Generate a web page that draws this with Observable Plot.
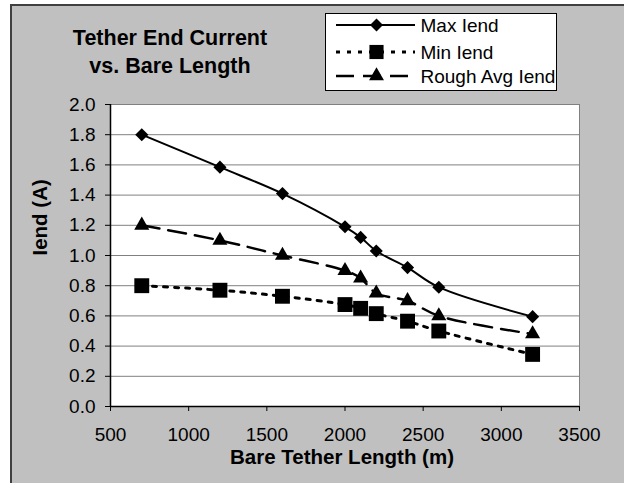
<!DOCTYPE html>
<html>
<head>
<meta charset="utf-8">
<script src="https://cdn.jsdelivr.net/npm/d3@7"></script>
<script src="https://cdn.jsdelivr.net/npm/@observablehq/plot@0.6"></script>
<style>
  html, body { margin: 0; padding: 0; background: #ffffff; }
  #wrap { position: relative; width: 624px; height: 483px; overflow: hidden; font-family: "Liberation Sans", Arial, sans-serif; }
  #bg { position: absolute; left: 10px; top: 4px; width: 620px; height: 490px; background: #c0c0c0; border-top: 2px solid #404040; border-left: 2px solid #404040; }
  #chart { position: absolute; left: 0; top: 0; }
  #title { position: absolute; left: 0; top: 24px; width: 340px; text-align: center; font-weight: bold; font-size: 21.5px; line-height: 28px; color: #000; }
  #legend { position: absolute; left: 325px; top: 13px; }
</style>
</head>
<body>
<div id="wrap">
  <div id="bg"></div>
  <div id="chart"></div>
  <div id="title">Tether End Current<br>vs. Bare Length</div>
  <div id="legend"></div>
</div>
<script>
const lengths = [700, 1200, 1600, 2000, 2100, 2200, 2400, 2600, 3200];
const maxIend = [1.80, 1.585, 1.41, 1.19, 1.12, 1.03, 0.92, 0.79, 0.595];
const minIend = [0.80, 0.77, 0.73, 0.675, 0.65, 0.615, 0.565, 0.50, 0.345];
const avgIend = [1.20, 1.10, 1.00, 0.90, 0.85, 0.75, 0.70, 0.60, 0.48];
const seriesNames = ["Max Iend", "Min Iend", "Rough Avg Iend"];
const xTicks = [500, 1000, 1500, 2000, 2500, 3000, 3500];
const yTicks = [0, 0.2, 0.4, 0.6, 0.8, 1.0, 1.2, 1.4, 1.6, 1.8, 2.0];

const maxData = lengths.map((x, i) => ({x, y: maxIend[i]}));
const minData = lengths.map((x, i) => ({x, y: minIend[i]}));
const avgData = lengths.map((x, i) => ({x, y: avgIend[i]}));

const chart = Plot.plot({
  width: 624,
  height: 483,
  marginLeft: 110,
  marginRight: 45,
  marginTop: 104,
  marginBottom: 77,
  style: {background: "transparent", fontFamily: "'Liberation Sans', Arial, sans-serif", fontSize: "19px", color: "#000", overflow: "visible"},
  x: {domain: [500, 3500]},
  y: {domain: [0, 2]},
  marks: [
    Plot.frame({fill: "white", stroke: "#808080"}),
    Plot.gridY(yTicks, {stroke: "#808080", strokeOpacity: 1}),
    Plot.axisX({ticks: xTicks, tickFormat: d => String(d), tickSize: 5, tickPadding: 16, label: null, stroke: "#000"}),
    Plot.axisY({ticks: yTicks, tickFormat: d => d.toFixed(1), tickSize: 5, tickPadding: 10, label: null, stroke: "#000"}),
    Plot.ruleX([500], {stroke: "#000", strokeWidth: 1.5}),
    Plot.ruleY([0], {stroke: "#000", strokeWidth: 1.5}),
    Plot.line(maxData, {x: "x", y: "y", curve: "catmull-rom", stroke: "#000", strokeWidth: 2}),
    Plot.line(minData, {x: "x", y: "y", curve: "catmull-rom", stroke: "#000", strokeWidth: 3, strokeDasharray: "4,7"}),
    Plot.line(avgData, {x: "x", y: "y", curve: "catmull-rom", stroke: "#000", strokeWidth: 2.5, strokeDasharray: "18,9"}),
    Plot.dot(maxData, {x: "x", y: "y", symbol: "diamond2", r: 5.9, fill: "#000", stroke: "none"}),
    Plot.dot(minData, {x: "x", y: "y", symbol: "square", r: 8.4, fill: "#000", stroke: "none"}),
    Plot.dot(avgData, {x: "x", y: "y", symbol: "triangle", r: 5.6, fill: "#000", stroke: "none"}),
    Plot.text(["Iend (A)"], {frameAnchor: "left", rotate: -90, dx: -70, fontWeight: "bold", fontSize: 20.5, fill: "#000"}),
    Plot.text(["Bare Tether Length (m)"], {frameAnchor: "bottom", dx: -3, dy: 57, fontWeight: "bold", fontSize: 20.5, fill: "#000"})
  ]
});
document.getElementById("chart").appendChild(chart);

// Legend
const lw = 232, lh = 78;
const lsvg = d3.select("#legend").append("svg").attr("width", lw).attr("height", lh);
lsvg.append("rect").attr("x", 0.5).attr("y", 0.5).attr("width", lw - 1).attr("height", lh - 1)
  .attr("fill", "white").attr("stroke", "#000");
const styles = [
  {dash: null, sw: 2, sym: d3.symbolDiamond2, size: 108},
  {dash: "4,7", sw: 3, sym: d3.symbolSquare, size: 200},
  {dash: "18,9", sw: 2.5, sym: d3.symbolTriangle, size: 97}
];
const rowY = [12, 39, 63];
seriesNames.forEach((name, i) => {
  const g = lsvg.append("g");
  const st = styles[i];
  const ln = g.append("line").attr("x1", 11).attr("x2", 90).attr("y1", rowY[i]).attr("y2", rowY[i])
    .attr("stroke", "#000").attr("stroke-width", st.sw);
  if (st.dash) ln.attr("stroke-dasharray", st.dash).attr("stroke-dashoffset", i === 2 ? 0 : 0);
  g.append("path").attr("d", d3.symbol(st.sym, st.size)()).attr("transform", `translate(51.5,${rowY[i]})`).attr("fill", "#000");
  g.append("text").attr("x", 95.5).attr("y", rowY[i] + 6.8).text(name)
    .attr("font-family", "'Liberation Sans', Arial, sans-serif").attr("font-size", 19).attr("fill", "#000");
});
</script>
</body>
</html>
